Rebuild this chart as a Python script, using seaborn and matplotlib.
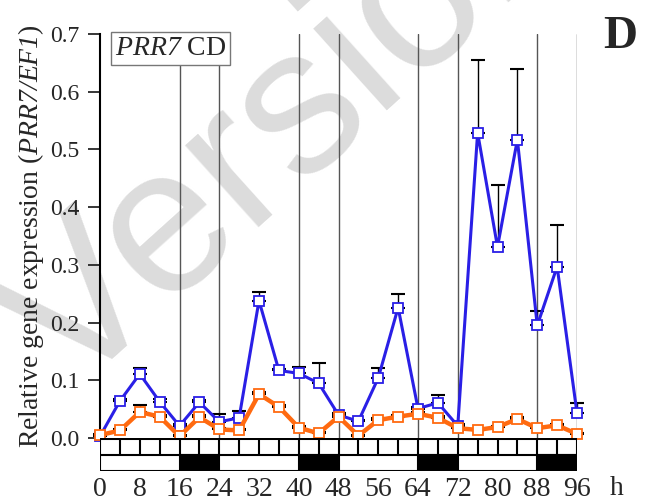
import matplotlib
matplotlib.use("Agg")
import matplotlib.pyplot as plt
import seaborn as sns
import numpy as np
import pandas as pd
from matplotlib.patches import Rectangle

# sampling times (h)
hours = [0, 4, 8, 12, 16, 20, 24, 28, 32, 36, 40, 44, 48,
         52, 56, 60, 64, 68, 72, 76, 80, 84, 88, 92, 96]

# PRR7 relative expression, blue series
blue_mean = [0.003, 0.064, 0.111, 0.063, 0.021, 0.062, 0.028, 0.035, 0.238, 0.117, 0.112, 0.095, 0.040,
             0.029, 0.104, 0.226, 0.051, 0.061, 0.021, 0.529, 0.331, 0.517, 0.195, 0.297, 0.043]
blue_err = [0.002, 0.004, 0.011, 0.004, 0.003, 0.004, 0.013, 0.011, 0.015, 0.003, 0.011, 0.035, 0.003,
            0.003, 0.017, 0.024, 0.003, 0.014, 0.003, 0.126, 0.107, 0.123, 0.025, 0.072, 0.017]

# orange series
orange_mean = [0.005, 0.013, 0.045, 0.037, 0.003, 0.036, 0.015, 0.013, 0.076, 0.054, 0.018, 0.008, 0.037,
               0.004, 0.031, 0.037, 0.042, 0.035, 0.017, 0.014, 0.019, 0.033, 0.017, 0.022, 0.007]
orange_err = [0.002, 0.003, 0.013, 0.003, 0.002, 0.003, 0.003, 0.003, 0.004, 0.003, 0.003, 0.002, 0.003,
              0.002, 0.003, 0.003, 0.003, 0.003, 0.002, 0.002, 0.002, 0.003, 0.002, 0.002, 0.002]

# light/dark schedule (start, end) of dark periods
dark_periods = [(16, 24), (40, 48), (64, 72), (88, 96)]
vlines = [16, 24, 40, 48, 64, 72, 88, 96]

BLUE = "#2a1fe6"
ORANGE = "#ff6a10"

sns.set_style("white")
plt.rcParams["font.family"] = ["Liberation Serif", "DejaVu Serif"]
# everything inside $...$ is set in italic (gene names)
plt.rcParams["mathtext.fontset"] = "custom"
plt.rcParams["mathtext.rm"] = "Liberation Serif:italic"
plt.rcParams["mathtext.it"] = "Liberation Serif:italic"
plt.rcParams["mathtext.default"] = "it"

fig = plt.figure(figsize=(6.52, 5.03), dpi=100)
ax = fig.add_axes([100 / 652, 65 / 503, 477 / 652, 404 / 503])
ax.patch.set_alpha(0)

# watermark behind the axes
fig.text(0.445, 0.75, "Version", fontsize=150, rotation=42, color="#dcdcdc",
         ha="center", va="center", family="Liberation Sans", zorder=-1,
         rotation_mode="anchor")

df = pd.DataFrame({"h": hours, "blue": blue_mean, "orange": orange_mean})

for x in vlines:
    ax.axvline(x, color="#555555", lw=1, zorder=1)

ax.errorbar(hours, blue_mean, yerr=[np.zeros(len(hours)), blue_err], fmt="none",
            ecolor="black", elinewidth=1, capsize=5, capthick=1.5, zorder=2, clip_on=False)
ax.errorbar(hours, orange_mean, yerr=[np.zeros(len(hours)), orange_err], fmt="none",
            ecolor="black", elinewidth=1, capsize=5, capthick=1.5, zorder=2, clip_on=False)

sns.lineplot(data=df, x="h", y="blue", ax=ax, color=BLUE, lw=2.2, marker="s", markersize=7,
             markerfacecolor="white", markeredgecolor=BLUE, markeredgewidth=1.3, clip_on=False, zorder=3)
sns.lineplot(data=df, x="h", y="orange", ax=ax, color=ORANGE, lw=3.2, marker="s", markersize=7,
             markerfacecolor="white", markeredgecolor=ORANGE, markeredgewidth=1.3, clip_on=False, zorder=4)

ax.set_xlim(0, 96)
ax.set_ylim(0, 0.7)
ax.set_xticks([])
ax.set_xlabel("")
ax.set_yticks(np.arange(0, 0.71, 0.1))
ax.set_yticklabels([f"{v:.1f}" for v in np.arange(0, 0.71, 0.1)])
ax.tick_params(axis="y", direction="out", length=9, width=1.3, labelsize=17, left=True, pad=6)
for s in ["top", "right", "bottom"]:
    ax.spines[s].set_visible(False)
ax.spines["left"].set_linewidth(1.5)
ax.spines["left"].set_color("black")
ax.set_ylabel(r"Relative gene expression ($PRR7/EF1$)", fontsize=20, labelpad=3)

ax.text(3, 0.697, r"$PRR7$ CD", fontsize=20, ha="left", va="top", zorder=6,
        bbox=dict(boxstyle="square,pad=0.15", facecolor="white", edgecolor="#777777", lw=1))
fig.text(0.951, 0.926, "D", fontsize=34, fontweight="bold", ha="center", va="center")

# light/dark bar
ax2 = fig.add_axes([100 / 652, 32 / 503, 477 / 652, 33 / 503])
ax2.patch.set_alpha(0)
ax2.set_xlim(0, 96)
ax2.set_ylim(0, 2)
ax2.add_patch(Rectangle((0, 1), 96, 1, facecolor="white", edgecolor="none"))
ax2.vlines(hours, 1, 2, color="black", lw=1.5)
ax2.hlines(2, 0, 96, color="black", lw=2.2)
ax2.add_patch(Rectangle((0, 0), 96, 1, facecolor="white", edgecolor="black", lw=1.5))
for a, b in dark_periods:
    ax2.add_patch(Rectangle((a, 0), b - a, 1, facecolor="black", edgecolor="black", lw=1.5))
for s in ax2.spines.values():
    s.set_visible(False)
ax2.set_yticks([])
ax2.set_xticks(np.arange(0, 97, 8))
ax2.tick_params(axis="x", length=0, labelsize=20, pad=4)
ax2.text(104, -0.3, "h", fontsize=20, ha="center", va="top", transform=ax2.transData)

fig.savefig("out.png", dpi=100)
plt.close()
